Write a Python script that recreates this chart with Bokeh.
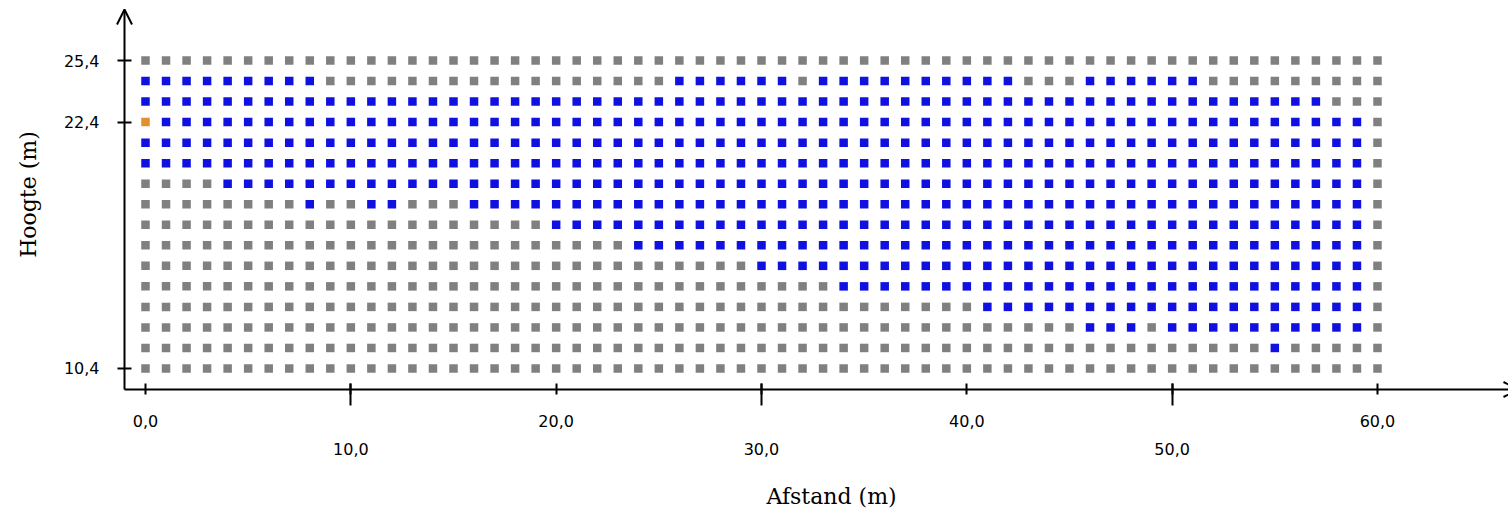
import math
from bokeh.plotting import figure
from bokeh.models import ColumnDataSource, FixedTicker, Range1d, Arrow, OpenHead, Label
from bokeh.embed import file_html
from bokeh.resources import INLINE

# ---- data ----
DISTANCES = [0, 1, 2, 3, 4, 5, 6, 7, 8, 9, 10, 11, 12, 13, 14, 15, 16, 17, 18, 19,
             20, 21, 22, 23, 24, 25, 26, 27, 28, 29, 30, 31, 32, 33, 34, 35, 36, 37, 38, 39,
             40, 41, 42, 43, 44, 45, 46, 47, 48, 49, 50, 51, 52, 53, 54, 55, 56, 57, 58, 59, 60]
HEIGHTS = [25.4, 24.4, 23.4, 22.4, 21.4, 20.4, 19.4, 18.4,
           17.4, 16.4, 15.4, 14.4, 13.4, 12.4, 11.4, 10.4]
# inclusive column spans (distance values) of blue cells, one list per height row
BLUE_SPANS = [
    [],                                          # 25.4
    [(0, 8), (26, 31), (33, 42), (46, 51)],      # 24.4
    [(0, 57)],                                   # 23.4
    [(0, 59)],                                   # 22.4
    [(0, 59)],                                   # 21.4
    [(0, 59)],                                   # 20.4
    [(4, 59)],                                   # 19.4
    [(8, 8), (11, 12), (16, 59)],                # 18.4
    [(20, 59)],                                  # 17.4
    [(24, 59)],                                  # 16.4
    [(30, 59)],                                  # 15.4
    [(34, 59)],                                  # 14.4
    [(41, 59)],                                  # 13.4
    [(46, 48), (50, 59)],                        # 12.4
    [(55, 55)],                                  # 11.4
    [],                                          # 10.4
]
MARKED_POINT = (0, 22.4)

X_TICKS = [0, 10, 20, 30, 40, 50, 60]
X_TICK_LABELS = ["0,0", "10,0", "20,0", "30,0", "40,0", "50,0", "60,0"]
Y_TICKS = [25.4, 22.4, 10.4]
Y_TICK_LABELS = ["25,4", "22,4", "10,4"]
X_TITLE = "Afstand (m)"
Y_TITLE = "Hoogte (m)"

GRAY = "#808080"
BLUE = "#1010e0"
ORANGE = "#e0902c"

# ---- build cell table ----
xs, ys, cols = [], [], []
for h, spans in zip(HEIGHTS, BLUE_SPANS):
    for d in DISTANCES:
        if (d, h) == MARKED_POINT:
            c = ORANGE
        elif any(a <= d <= b for a, b in spans):
            c = BLUE
        else:
            c = GRAY
        xs.append(d)
        ys.append(h)
        cols.append(c)
src = ColumnDataSource(dict(x=xs, y=ys, color=cols))

# ---- layout (frame covers the whole canvas; axes sit at fixed locations) ----
xr = Range1d(-7.0617, 66.380)
yr = Range1d(3.5818, 28.3221)
X_AXIS_AT = 9.3773     # height where the horizontal axis line runs
Y_AXIS_AT = -1.0227    # distance where the vertical axis line runs
Y_ARROW_TOP = 27.884
X_ARROW_END = 66.867

p = figure(width=1508, height=508, output_backend="svg", toolbar_location=None,
           x_range=xr, y_range=yr, min_border=0,
           min_border_left=0, min_border_right=0, min_border_top=0, min_border_bottom=0)
p.xgrid.visible = False
p.ygrid.visible = False
p.outline_line_color = None
p.background_fill_color = "white"
p.border_fill_color = "white"

p.scatter("x", "y", source=src, marker="square", size=8.5,
          fill_color="color", line_color=None)

# x axis
xa = p.xaxis[0]
xa.fixed_location = X_AXIS_AT
xa.ticker = FixedTicker(ticks=X_TICKS, minor_ticks=X_TICKS[1::2])
xa.major_label_overrides = {t: ("\n" + l if i % 2 else l)
                            for i, (t, l) in enumerate(zip(X_TICKS, X_TICK_LABELS))}
xa.major_label_text_line_height = 1.44
xa.major_label_text_font = "DejaVu Sans"
xa.major_label_text_font_size = "16px"
xa.major_label_text_color = "black"
xa.major_label_standoff = 7
xa.major_tick_in = 6
xa.major_tick_out = 5
xa.minor_tick_in = 6
xa.minor_tick_out = 16
xa.major_tick_line_width = 2
xa.minor_tick_line_width = 2
xa.major_tick_line_color = "black"
xa.minor_tick_line_color = "black"
xa.axis_line_color = None

# y axis
ya = p.yaxis[0]
ya.fixed_location = Y_AXIS_AT
ya.ticker = FixedTicker(ticks=Y_TICKS, minor_ticks=[])
ya.major_label_overrides = dict(zip(Y_TICKS, Y_TICK_LABELS))
ya.major_label_text_font = "DejaVu Sans"
ya.major_label_text_font_size = "16px"
ya.major_label_text_color = "black"
ya.major_label_standoff = 18
ya.major_tick_in = 7
ya.major_tick_out = 7
ya.major_tick_line_width = 2
ya.major_tick_line_color = "black"
ya.minor_tick_line_color = None
ya.axis_line_color = None

# axis lines with open arrow heads
p.add_layout(Arrow(end=OpenHead(size=15, line_width=2, line_color="black"),
                   x_start=Y_AXIS_AT, y_start=X_AXIS_AT, x_end=X_ARROW_END, y_end=X_AXIS_AT,
                   line_width=2, line_color="black"))
p.add_layout(Arrow(end=OpenHead(size=15, line_width=2, line_color="black"),
                   x_start=Y_AXIS_AT, y_start=X_AXIS_AT, x_end=Y_AXIS_AT, y_end=Y_ARROW_TOP,
                   line_width=2, line_color="black"))

# axis titles
p.add_layout(Label(x=33.41, y=4.17, text=X_TITLE, text_align="center",
                   text_baseline="alphabetic", text_font="DejaVu Serif",
                   text_font_size="22px", text_color="black"))
p.add_layout(Label(x=-5.70, y=18.874, text=Y_TITLE, angle=math.pi / 2,
                   text_align="center", text_baseline="alphabetic",
                   text_font="DejaVu Serif", text_font_size="22px", text_color="black"))

open("out.html", "w").write(file_html(p, INLINE))
